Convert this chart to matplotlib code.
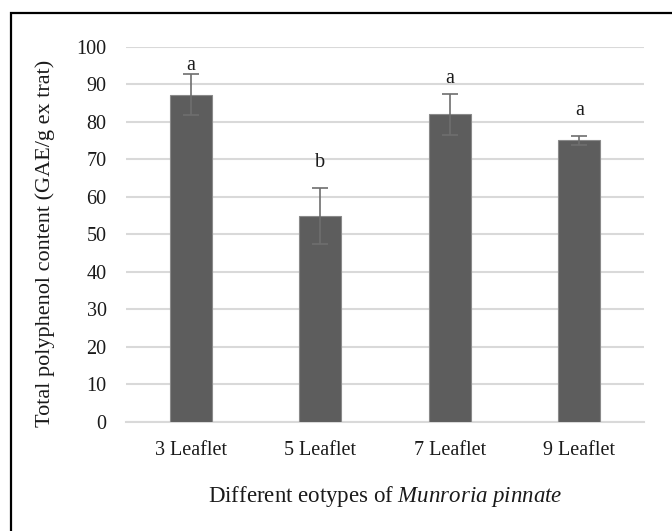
import matplotlib.pyplot as plt
from matplotlib.patches import Rectangle
import numpy as np

# data
categories = ["3 Leaflet", "5 Leaflet", "7 Leaflet", "9 Leaflet"]
means = [87.2, 54.9, 82.0, 75.0]
errors = [5.4, 7.4, 5.5, 1.3]
letters = ["a", "b", "a", "a"]
letter_y = [95.0, 69.0, 91.4, 82.9]

plt.rcParams['font.family'] = ['Liberation Serif', 'DejaVu Serif']
plt.rcParams['mathtext.fontset'] = 'custom'
plt.rcParams['mathtext.rm'] = 'Liberation Serif'
plt.rcParams['mathtext.it'] = 'Liberation Serif:italic'

fig = plt.figure(figsize=(6.72, 5.31), dpi=100)
ax = fig.add_axes([126 / 672, 1 - 421.7 / 531, (644 - 126) / 672, (421.7 - 46.7) / 531])

x = np.arange(len(categories))
ax.bar(x, means, width=0.325, color='#5d5d5d', edgecolor='#8a8a8a', linewidth=0.8, zorder=3)
ax.errorbar(x, means, yerr=errors, fmt='none', ecolor='#6e6e6e', elinewidth=1.2,
            capsize=6, capthick=1.2, zorder=4)

for xi, lab, ly in zip(x, letters, letter_y):
    ax.text(xi, ly, lab, ha='center', va='center', fontsize=14.5, color='#1a1a1a')

ax.set_xlim(-0.5, 3.5)
ax.set_ylim(0, 100)
ax.set_yticks(range(0, 101, 10))
ax.set_xticks(x)
ax.set_xticklabels(categories)
ax.tick_params(axis='both', length=0, labelsize=14.5, colors='#1a1a1a')
ax.tick_params(axis='x', pad=14)
ax.tick_params(axis='y', pad=14)

ax.yaxis.grid(True, color='#d9d9d9', linewidth=1.5, zorder=0)
ax.set_axisbelow(True)
for s in ['top', 'right', 'left']:
    ax.spines[s].set_visible(False)
ax.spines['bottom'].set_color('#d9d9d9')
ax.spines['bottom'].set_linewidth(1.5)

fig.text(385 / 672, 1 - 496.7 / 531, "Different eotypes of $\\it{Munroria\\ pinnate}$",
         ha='center', va='center', fontsize=16.5, color='#1a1a1a')
fig.text(45 / 672, 1 - 243.5 / 531, "Total polyphenol content (GAE/g ex trat)",
         ha='center', va='center', rotation=90, fontsize=16, color='#1a1a1a')

# frame around the chart (cropped on the right and bottom)
fig.patches.append(Rectangle((11 / 672, -0.1), 1.2, 1.1 - 13 / 531, transform=fig.transFigure,
                             fill=False, edgecolor='black', linewidth=1.6))

fig.savefig('out.png', dpi=100)
